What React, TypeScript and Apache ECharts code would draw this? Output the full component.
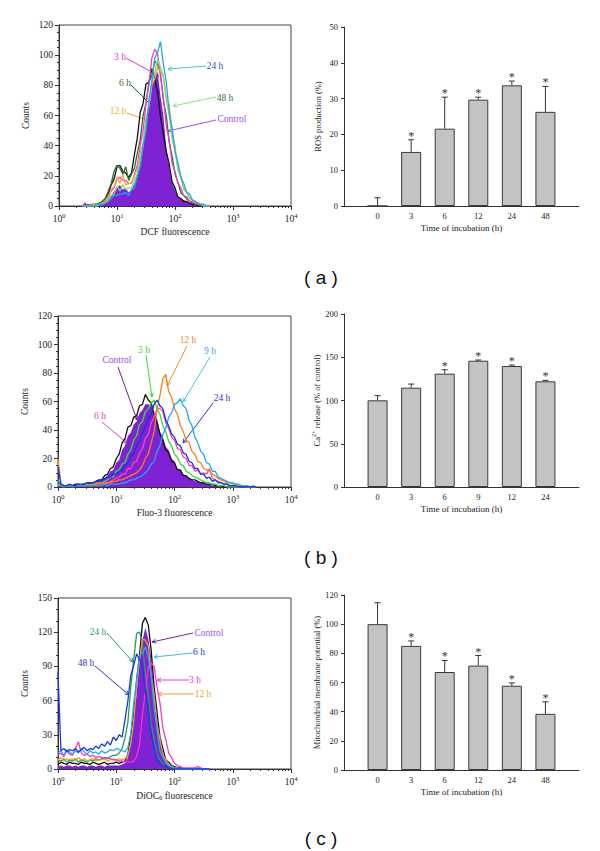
import React, { useEffect, useRef } from "react";
import * as echarts from "echarts";

// ---------- histogram data (bins on log10 fluorescence, step 0.05) ----------
const STEP = 0.05;

// panel (a) DCF — bins start at log10 = 0.40
const A_START = 0.4;
const A_CONTROL_FILL = [0,0,1,0,0,1,1,2,3,5,7,10,12,14,11,12,9,11,15,19,29,38,54,66,80,84,89,73,60,38,26,15,11,6,5,4,3,2,2,1,1,0,0,0,0];
const A_CONTROL_LINE = [0,1,0,1,1,1,2,3,5,8,14,18,26,27,23,22,19,22,34,45,62,68,81,82,91,84,76,59,48,36,28,16,12,6,5,3,3,2,1,1,0,0,0,0,0];
const A_3H = [0,2,0,1,0,1,1,2,3,6,10,12,18,19,17,17,15,15,21,27,40,50,68,80,98,104,101,86,72,53,44,28,23,15,12,7,6,3,3,2,1,1,0,0,0];
const A_6H = [0,0,1,0,1,1,2,3,5,10,15,23,27,25,21,26,17,21,25,35,44,60,68,82,86,96,94,88,70,60,42,33,21,16,9,7,5,3,2,1,1,0,0,0,0];
const A_12H = [0,0,0,1,1,0,1,2,3,6,11,13,19,15,21,14,15,15,20,24,35,42,58,66,80,84,92,89,86,72,67,48,40,25,20,12,10,5,4,3,2,1,1,0,0];
const A_24H = [0,0,0,1,0,1,1,1,2,3,5,7,7,8,8,9,7,11,12,20,26,40,50,70,82,98,102,109,94,82,62,52,36,29,19,15,9,8,4,3,2,1,1,0,0];
const A_48H = [0,0,0,0,0,0,1,1,2,4,7,8,13,10,14,11,12,12,17,21,31,41,57,66,82,88,97,92,86,70,60,44,37,24,19,11,9,5,4,3,2,1,0,0,0];

// panel (b) Fluo-3 — bins start at log10 = 0
const B_START = 0;
const B_CONTROL_FILL = [3,1,1,0,1,1,1,2,1,2,2,2,3,3,4,5,6,8,11,12,17,19,26,29,36,38,44,46,52,54,58,58,57,52,48,39,35,28,26,20,18,13,12,9,8,6,5,4,4,3,3,2,2,1,1,1,1,0,0,0,0,0,0,0,0,0,0,0,0];
const B_CONTROL_LINE = [4,1,1,1,1,1,2,2,1,2,3,2,3,4,5,5,8,9,13,14,20,23,31,34,42,43,49,50,57,58,65,61,59,51,45,37,33,26,24,18,17,12,12,8,8,6,5,5,4,3,3,2,2,2,1,1,1,0,0,0,0,0,0,0,0,0,0,0,0];
const B_3H = [2,1,0,1,1,0,1,1,1,1,1,2,2,2,3,3,4,5,7,7,11,12,16,17,23,26,33,36,44,46,53,55,59,61,55,51,43,39,32,29,23,21,16,15,11,10,8,7,6,5,4,3,3,2,2,1,1,1,0,0,0,0,0,0,0,0,0,0,0];
const B_6H = [1,1,0,1,1,1,1,1,1,1,1,1,1,2,2,2,3,3,4,5,6,7,9,9,13,13,17,18,24,27,34,37,45,49,55,55,53,45,41,35,33,27,26,21,20,15,15,11,12,9,10,9,13,6,5,4,3,2,2,1,1,0,0,0,0,0,0,0,0];
const B_12H = [20,2,1,1,1,1,1,2,1,1,2,1,2,2,3,3,2,3,3,4,4,5,5,6,7,8,9,10,12,15,20,23,31,39,54,64,76,79,67,63,55,51,43,39,33,31,25,23,18,17,13,12,11,9,8,6,5,4,3,3,2,2,1,1,1,0,0,0,0];
const B_9H = [5,1,0,1,1,0,1,1,1,1,1,1,1,1,1,1,2,1,2,2,2,2,3,3,4,5,5,6,7,8,10,12,16,18,25,29,37,41,49,52,58,59,62,57,55,47,43,35,31,25,23,17,16,11,11,7,6,5,4,3,3,2,2,1,1,1,0,1,0];
const B_24H = [14,2,1,1,2,1,1,2,2,2,3,3,3,4,4,5,6,7,7,9,9,11,12,15,17,21,24,29,32,38,42,48,51,58,61,57,55,47,43,37,35,30,29,24,23,18,17,13,13,9,9,6,7,4,5,3,3,2,2,1,1,1,0,0,0,0,0,0,0];

// panel (c) DiOC6 — bins start at log10 = 0
const C_START = 0;
const C_CONTROL_FILL = [2,3,2,3,3,2,3,2,3,3,2,3,3,2,3,3,2,3,3,3,3,3,4,5,10,22,44,66,97,113,124,114,98,68,46,25,15,7,4,2,1,1,0,0,0,0,0,0,0,0,0,0,0];
const C_CONTROL_LINE = [4,6,5,4,6,5,5,4,6,5,5,4,6,5,4,5,6,4,5,5,6,5,6,7,13,29,48,78,100,128,133,126,104,72,50,28,18,8,6,3,2,1,1,0,0,0,0,0,0,0,0,0,0];
const C_3H = [12,14,11,16,13,12,18,24,14,12,13,11,12,10,11,10,9,10,9,8,8,7,7,6,6,6,7,11,21,48,68,90,93,90,72,58,36,26,14,10,5,3,2,1,1,1,1,1,2,1,0,0,0];
const C_6H = [14,16,12,17,15,13,16,14,18,15,13,16,14,15,13,16,14,15,17,16,18,17,16,15,19,31,58,78,99,102,107,98,82,54,35,16,10,5,3,2,1,1,0,0,0,0,0,0,0,0,0,0,0];
const C_12H = [8,10,7,9,8,9,7,10,8,9,7,8,9,7,8,8,9,7,8,9,8,9,8,9,12,23,42,74,96,114,113,108,82,65,39,26,13,8,4,2,1,0,0,0,0,0,0,0,0,0,0,0,0];
const C_24H = [8,7,9,6,8,7,9,6,8,7,6,8,7,9,8,9,10,9,11,12,12,14,18,27,41,72,96,119,120,110,84,65,39,26,13,8,4,2,1,0,0,0,0,0,0,0,0,0,0,0,0,0,0];
const C_48H = [85,16,18,15,17,16,18,15,17,19,16,18,17,20,18,22,20,24,21,28,25,30,28,43,60,82,91,101,96,90,68,52,30,19,8,5,3,2,1,0,0,0,0,0,0,0,0,0,0,0,0,0,0];

// ---------- bar chart data ----------
const TIMES_A = ["0", "3", "6", "12", "24", "48"];
const ROS_MEAN = [0, 15.1, 21.6, 29.7, 33.7, 26.3];
const ROS_ERR_TOP = [2.3, 18.5, 30.4, 30.4, 34.9, 33.4];
const ROS_SIG = [0, 1, 1, 1, 1, 1];

const TIMES_B = ["0", "3", "6", "9", "12", "24"];
const CA_MEAN = [100.2, 114.8, 131, 146, 139.9, 122.2];
const CA_ERR_TOP = [105.6, 119, 135.6, 146.8, 141, 123.3];
const CA_SIG = [0, 0, 1, 1, 1, 1];

const TIMES_C = ["0", "3", "6", "12", "24", "48"];
const MMP_MEAN = [100, 85.1, 67.2, 71.6, 57.8, 38.5];
const MMP_ERR_TOP = [114.7, 88.5, 75.1, 78.5, 59.7, 46.8];
const MMP_SIG = [0, 1, 1, 1, 1, 1];

// ---------- styling ----------
const SERIF = "'Liberation Serif', 'Times New Roman', serif";
const SANS = "'Liberation Sans', Arial, sans-serif";
const AX = "#333";
const TXT = "#222";

const LOG_MINOR: number[] = [];
for (let n = 0; n < 4; n++) for (let k = 2; k < 10; k++) LOG_MINOR.push(Math.log10(k * Math.pow(10, n)));

const pairs = (start: number, arr: number[]) => arr.map((v, i) => [+(start + i * STEP).toFixed(3), v]);

function histAxes(gi: number, name: string, ymax: number, yint: number, yminor: number) {
  const x = [
    {
      type: "value", gridIndex: gi, min: 0, max: 4, interval: 1, position: "bottom",
      axisLine: { show: true, onZero: false, lineStyle: { color: AX, width: 1 } },
      axisTick: { show: true, length: 4, lineStyle: { color: AX } },
      splitLine: { show: false },
      axisLabel: {
        margin: 6,
        formatter: (v: number) => `{b|10}{s|${v}}`,
        rich: {
          b: { fontFamily: SERIF, fontSize: 9.5, color: TXT },
          s: { fontFamily: SERIF, fontSize: 6.5, color: TXT, verticalAlign: "top", padding: [0, 0, 6, 0] },
        },
      },
      name, nameLocation: "middle", nameGap: 21,
      nameTextStyle: {
        fontFamily: SERIF, fontSize: 9.5, color: TXT,
        rich: { sub: { fontFamily: SERIF, fontSize: 6.5, color: TXT, verticalAlign: "bottom", padding: [4, 0, 0, 0] } },
      },
    },
    {
      type: "value", gridIndex: gi, min: 0, max: 4, position: "bottom",
      axisLine: { show: false, onZero: false },
      axisLabel: { show: false },
      splitLine: { show: false },
      axisTick: { show: true, length: 2, customValues: LOG_MINOR, lineStyle: { color: AX } },
    },
  ];
  const y = {
    type: "value", gridIndex: gi, min: 0, max: ymax, interval: yint,
    axisLine: { show: true, onZero: false, lineStyle: { color: AX, width: 1 } },
    axisTick: { show: true, length: 4, lineStyle: { color: AX } },
    minorTick: { show: true, splitNumber: yminor, length: 2, lineStyle: { color: AX } },
    splitLine: { show: false },
    axisLabel: { fontFamily: SERIF, fontSize: 9.5, color: TXT, margin: 6 },
    name: "Counts", nameLocation: "middle", nameGap: 28, nameRotate: 90,
    nameTextStyle: { fontFamily: SERIF, fontSize: 9.5, color: TXT },
  };
  return { x, y };
}

function barAxes(gi: number, cats: string[], ymax: number, yint: number, yname: string) {
  const x = {
    type: "value", gridIndex: gi, min: -1, max: 6, interval: 1,
    axisLine: { show: true, onZero: false, lineStyle: { color: AX, width: 1 } },
    axisTick: { show: false },
    splitLine: { show: false },
    axisLabel: {
      fontFamily: SERIF, fontSize: 8.5, color: TXT, margin: 5,
      formatter: (v: number) => (cats[v] !== undefined ? cats[v] : ""),
    },
    name: "Time of incubation (h)", nameLocation: "middle", nameGap: 17,
    nameTextStyle: { fontFamily: SERIF, fontSize: 9, color: TXT },
  };
  const y = {
    type: "value", gridIndex: gi, min: 0, max: ymax, interval: yint,
    axisLine: { show: true, onZero: false, lineStyle: { color: AX, width: 1 } },
    axisTick: { show: true, length: 3, lineStyle: { color: AX } },
    splitLine: { show: false },
    axisLabel: { fontFamily: SERIF, fontSize: 8.5, color: TXT, margin: 6 },
    name: yname, nameLocation: "middle", nameGap: 22, nameRotate: 90,
    nameTextStyle: {
      fontFamily: SERIF, fontSize: 8.5, color: TXT,
      rich: { sup: { fontFamily: SERIF, fontSize: 6, color: TXT, verticalAlign: "top", padding: [0, 0, 5, 0] } },
    },
  };
  return { x, y };
}

function lineSeries(xi: number, yi: number, start: number, arr: number[], color: string, z = 2) {
  return {
    type: "line", xAxisIndex: xi, yAxisIndex: yi, data: pairs(start, arr),
    showSymbol: false, symbol: "none", lineStyle: { color, width: 1.3 }, z, silent: true,
  };
}
function fillSeries(xi: number, yi: number, start: number, arr: number[], color: string) {
  return {
    type: "line", xAxisIndex: xi, yAxisIndex: yi, data: pairs(start, arr),
    showSymbol: false, symbol: "none", lineStyle: { width: 0, color }, areaStyle: { color, opacity: 1 }, z: 1, silent: true,
  };
}

function barSeries(xi: number, yi: number, means: number[]) {
  return {
    type: "bar", xAxisIndex: xi, yAxisIndex: yi, barWidth: 20,
    data: means.map((m, i) => [i, m]),
    itemStyle: { color: "#c3c3c3", borderColor: "#3a3a3a", borderWidth: 1 },
    silent: true,
  };
}
function errSeries(xi: number, yi: number, means: number[], tops: number[], sig: number[]) {
  return {
    type: "custom", xAxisIndex: xi, yAxisIndex: yi, z: 5, silent: true,
    dimensions: ["x", "m", "e", "s"],
    encode: { x: 0, y: 2 },
    data: means.map((m, i) => [i, m, tops[i], sig[i]]),
    renderItem: (_p: any, api: any) => {
      const x = api.value(0), m = api.value(1), e = api.value(2), s = api.value(3);
      const p0 = api.coord([x, m]);
      const p1 = api.coord([x, e]);
      const children: any[] = [
        { type: "line", shape: { x1: p0[0], y1: p0[1], x2: p1[0], y2: p1[1] }, style: { stroke: "#333", lineWidth: 1 } },
        { type: "line", shape: { x1: p1[0] - 3, y1: p1[1], x2: p1[0] + 3, y2: p1[1] }, style: { stroke: "#333", lineWidth: 1 } },
      ];
      if (s) {
        children.push({
          type: "text", x: p1[0], y: p1[1] - 4,
          style: { text: "*", fontFamily: SERIF, fontSize: 12, fill: "#333", align: "center", verticalAlign: "middle" },
        });
      }
      return { type: "group", children };
    },
  };
}

function label(text: string, x: number, y: number, color: string, align = "center") {
  return {
    type: "text", x, y, silent: true,
    style: { text, fill: color, fontFamily: SERIF, fontSize: 9.5, align, verticalAlign: "middle" },
  };
}
function arrow(x1: number, y1: number, x2: number, y2: number, color: string) {
  const ang = Math.atan2(y2 - y1, x2 - x1);
  const L = 4, W = 2;
  const bx = x2 - L * Math.cos(ang), by = y2 - L * Math.sin(ang);
  const px = -Math.sin(ang) * W, py = Math.cos(ang) * W;
  return [
    { type: "line", silent: true, shape: { x1, y1, x2, y2 }, style: { stroke: color, lineWidth: 1 } },
    { type: "polyline", silent: true, shape: { points: [[bx + px, by + py], [x2, y2], [bx - px, by - py]] }, style: { stroke: color, lineWidth: 1, fill: null } },
  ];
}
function panelLetter(text: string, y: number) {
  return { type: "text", x: 321, y, silent: true, style: { text, fill: "#111", fontFamily: SANS, fontSize: 19, align: "center", verticalAlign: "middle" } };
}

export default function App() {
  const ref = useRef<HTMLDivElement>(null);
  useEffect(() => {
    document.body.style.margin = "0";
    if (!ref.current) return;
    const chart = echarts.init(ref.current, null, { renderer: "svg" });

    const ha = histAxes(0, "DCF fluorescence", 120, 20, 4);
    const hb = histAxes(1, "Fluo-3 fluorescence", 120, 20, 4);
    const hc = histAxes(2, "DiOC{sub|6} fluorescence", 150, 30, 3);
    const ba = barAxes(3, TIMES_A, 50, 10, "ROS production (%)");
    const bb = barAxes(4, TIMES_B, 200, 50, "Ca{sup|2+} release (% of control)");
    const bc = barAxes(5, TIMES_C, 120, 20, "Mitochondrial membrane potential (%)");

    // xAxis indices: ha 0,1 ; hb 2,3 ; hc 4,5 ; ba 6 ; bb 7 ; bc 8
    const xAxis = [...ha.x, ...hb.x, ...hc.x, ba.x, bb.x, bc.x];
    const yAxis = [ha.y, hb.y, hc.y, ba.y, bb.y, bc.y];

    const frame = { show: true, borderColor: "#444", borderWidth: 1, backgroundColor: "transparent" };
    const grid = [
      { left: 59, top: 25, width: 232, height: 181, ...frame },
      { left: 58, top: 316, width: 233, height: 171, ...frame },
      { left: 58, top: 598, width: 233, height: 171, ...frame },
      { left: 344, top: 27, width: 235, height: 179 },
      { left: 344, top: 314, width: 235, height: 173 },
      { left: 344, top: 595, width: 235, height: 175 },
    ];

    const PURPLE = "#7e22d4";
    const series: any[] = [
      // panel a
      fillSeries(0, 0, A_START, A_CONTROL_FILL, PURPLE),
      lineSeries(0, 0, A_START, A_CONTROL_LINE, "#111"),
      lineSeries(0, 0, A_START, A_6H, "#2f6d38"),
      lineSeries(0, 0, A_START, A_3H, "#ec3ccc"),
      lineSeries(0, 0, A_START, A_12H, "#f5a623"),
      lineSeries(0, 0, A_START, A_48H, "#80d97c"),
      lineSeries(0, 0, A_START, A_24H, "#1ea6ee"),
      // panel b
      fillSeries(2, 1, B_START, B_CONTROL_FILL, PURPLE),
      lineSeries(2, 1, B_START, B_CONTROL_LINE, "#111"),
      lineSeries(2, 1, B_START, B_6H, "#ff44b4"),
      lineSeries(2, 1, B_START, B_3H, "#35dc35"),
      lineSeries(2, 1, B_START, B_12H, "#ff7f12"),
      lineSeries(2, 1, B_START, B_9H, "#22a8f0"),
      lineSeries(2, 1, B_START, B_24H, "#1a30e4"),
      // panel c
      fillSeries(4, 2, C_START, C_CONTROL_FILL, PURPLE),
      lineSeries(4, 2, C_START, C_CONTROL_LINE, "#111"),
      lineSeries(4, 2, C_START, C_24H, "#20a05c"),
      lineSeries(4, 2, C_START, C_12H, "#f59a23"),
      lineSeries(4, 2, C_START, C_3H, "#ff33c4"),
      lineSeries(4, 2, C_START, C_6H, "#22aaf0"),
      lineSeries(4, 2, C_START, C_48H, "#1a38e6"),
      // bars
      barSeries(6, 3, ROS_MEAN),
      errSeries(6, 3, ROS_MEAN, ROS_ERR_TOP, ROS_SIG),
      barSeries(7, 4, CA_MEAN),
      errSeries(7, 4, CA_MEAN, CA_ERR_TOP, CA_SIG),
      barSeries(8, 5, MMP_MEAN),
      errSeries(8, 5, MMP_MEAN, MMP_ERR_TOP, MMP_SIG),
    ];

    const graphic: any[] = [
      // panel a annotations
      label("3 h", 120, 57, "#e23ad0"), ...arrow(126, 58, 159, 76, "#e23ad0"),
      label("24 h", 215, 66, "#3f3fcf"), ...arrow(206, 66, 168, 69, "#46c5d6"),
      label("6 h", 125, 83, "#2f6a35"), ...arrow(131, 85, 158, 112, "#2f5a35"),
      label("48 h", 225, 98, "#3b6b3b"), ...arrow(216, 97, 173, 106, "#8ee08a"),
      label("12 h", 118, 111, "#f3a530"), ...arrow(127, 113, 163, 126, "#f3a530"),
      label("Control", 232, 119, "#a04ef0"), ...arrow(216, 120, 168, 131, "#a04ef0"),
      // panel b annotations
      label("Control", 117, 360, "#9a4af0"), ...arrow(118, 367, 137, 420, "#6b1f86"),
      label("3 h", 144, 350, "#3bd83b"), ...arrow(146, 355, 152, 397, "#3bd83b"),
      label("12 h", 188, 340, "#f08a2a"), ...arrow(187, 346, 167, 386, "#f08a2a"),
      label("9 h", 210, 351, "#3aa0f0"), ...arrow(210, 357, 183, 402, "#45c5dc"),
      label("24 h", 222, 398, "#3535d0"), ...arrow(213, 403, 183, 443, "#2a35d0"),
      label("6 h", 100, 416, "#e040c8"), ...arrow(102, 422, 127, 443, "#e040c8"),
      // panel c annotations
      label("24 h", 98, 632, "#2fa060"), ...arrow(107, 633, 133, 662, "#2a9a80"),
      label("Control", 209, 633, "#a050f0"), ...arrow(193, 633, 152, 642, "#702a90"),
      label("6 h", 199, 652, "#2a40d0"), ...arrow(193, 653, 154, 657, "#40c0d8"),
      label("48 h", 86, 663, "#3535d0"), ...arrow(95, 666, 129, 695, "#2a35d0"),
      label("3 h", 195, 680, "#f03cc8"), ...arrow(189, 680, 157, 680, "#f03cc8"),
      label("12 h", 203, 694, "#f0a030"), ...arrow(194, 694, 158, 694, "#f0a030"),
      // panel letters
      panelLetter("( a )", 277),
      panelLetter("( b )", 557),
      panelLetter("( c )", 838),
    ];

    chart.setOption({
      animation: false,
      backgroundColor: "#fff",
      grid, xAxis, yAxis, series, graphic,
    });
    return () => chart.dispose();
  }, []);
  return <div ref={ref} style={{ width: 600, height: 851 }} />;
}
